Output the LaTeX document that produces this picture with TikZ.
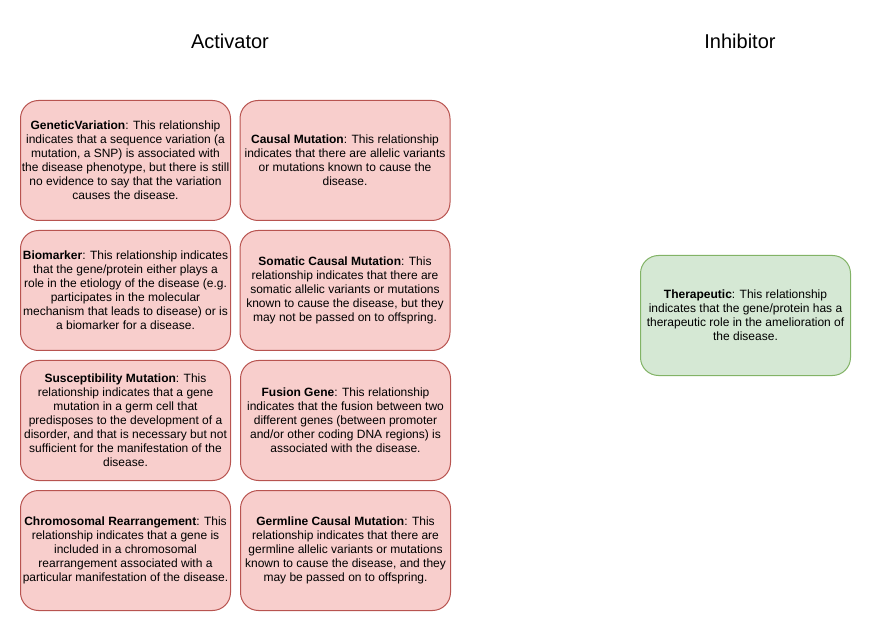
\documentclass[tikz,border=0pt]{standalone}
\usepackage{fontspec}
\setmainfont{Liberation Sans}
\definecolor{redfill}{HTML}{F8CECC}
\definecolor{redline}{HTML}{B85450}
\definecolor{greenfill}{HTML}{D5E8D4}
\definecolor{greenline}{HTML}{82B366}
\tikzset{
  card/.style={draw, rounded corners=18pt, minimum width=210pt, minimum height=120pt,
    align=center, inner sep=0pt, line width=1pt, font=\fontsize{12}{14}\selectfont},
  redcard/.style={card, fill=redfill, draw=redline},
  greencard/.style={card, fill=greenfill, draw=greenline},
  title/.style={font=\fontsize{20}{24}\selectfont}
}
\begin{document}
\begin{tikzpicture}[x=1pt,y=-1pt]
\useasboundingbox (0,0) rectangle (871,631);
\node[title] (act) at (230,41) {Activator};
\node[title] (inh) at (740,41) {Inhibitor};
\node[redcard] (gv) at (125.5,160.5) {\textbf{GeneticVariation}: This relationship\\indicates that a sequence variation (a\\mutation, a SNP) is associated with\\the disease phenotype, but there is still\\no evidence to say that the variation\\causes the disease.};
\node[redcard] (cm) at (345,160.5) {\textbf{Causal Mutation}: This relationship\\indicates that there are allelic variants\\or mutations known to cause the\\disease.};
\node[redcard] (bio) at (125.5,290.5) {\textbf{Biomarker}: This relationship indicates\\that the gene/protein either plays a\\role in the etiology of the disease (e.g.\\participates in the molecular\\mechanism that leads to disease) or is\\a biomarker for a disease.};
\node[redcard] (scm) at (345,290.5) {\textbf{Somatic Causal Mutation}: This\\relationship indicates that there are\\somatic allelic variants or mutations\\known to cause the disease, but they\\may not be passed on to offspring.};
\node[redcard] (sm) at (125.5,420.5) {\textbf{Susceptibility Mutation}: This\\relationship indicates that a gene\\mutation in a germ cell that\\predisposes to the development of a\\disorder, and that is necessary but not\\sufficient for the manifestation of the\\disease.};
\node[redcard] (fg) at (345.5,420.5) {\textbf{Fusion Gene}: This relationship\\indicates that the fusion between two\\different genes (between promoter\\and/or other coding DNA regions) is\\associated with the disease.};
\node[redcard] (cr) at (125.5,550.5) {\textbf{Chromosomal Rearrangement}: This\\relationship indicates that a gene is\\included in a chromosomal\\rearrangement associated with a\\particular manifestation of the disease.};
\node[redcard] (gcm) at (345.5,550.5) {\textbf{Germline Causal Mutation}: This\\relationship indicates that there are\\germline allelic variants or mutations\\known to cause the disease, and they\\may be passed on to offspring.};
\node[greencard] (ther) at (745.5,315.5) {\textbf{Therapeutic}: This relationship\\indicates that the gene/protein has a\\therapeutic role in the amelioration of\\the disease.};
\end{tikzpicture}
\end{document}
